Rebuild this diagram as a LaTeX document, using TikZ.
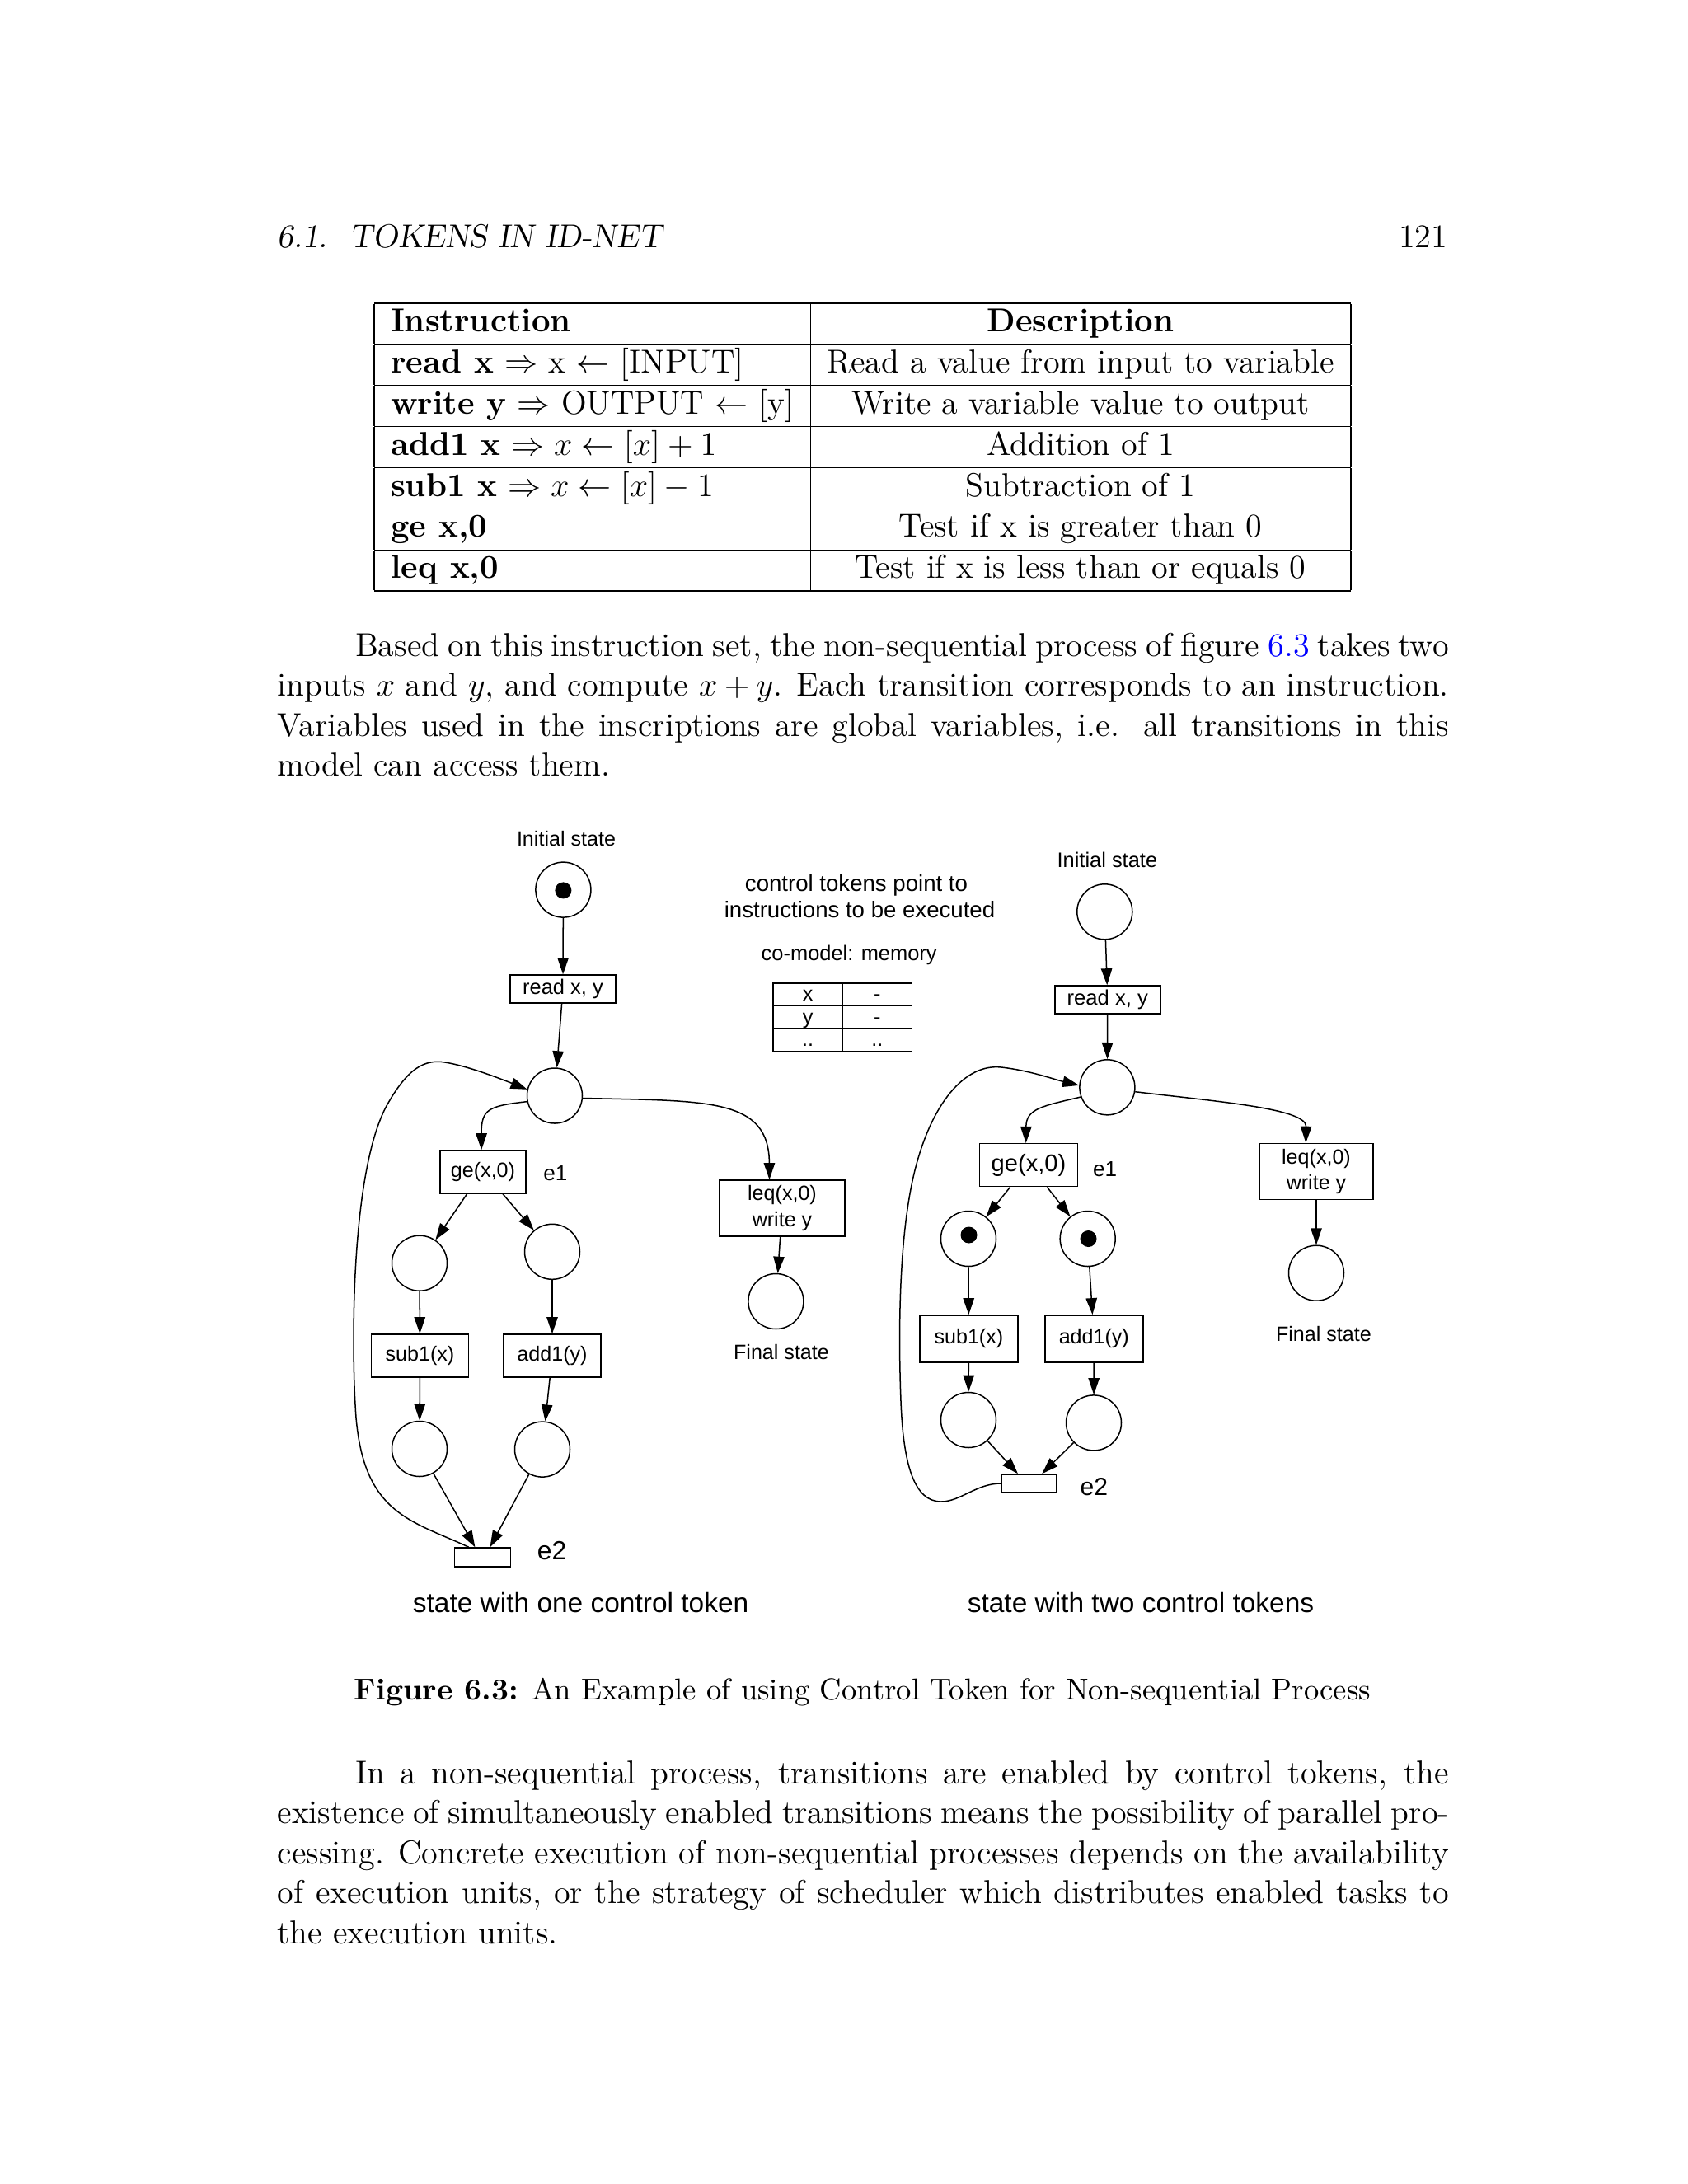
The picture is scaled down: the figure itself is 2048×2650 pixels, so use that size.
\documentclass[tikz,border=0pt]{standalone}
\usepackage{fontspec}
\newfontfamily\figfont{Liberation Sans}
\usetikzlibrary{arrows.meta}
\newdimen\pxu \pxu=0.29885pt
\newdimen\textw \textw=424.7pt
\newcommand\bodyfont{\fontsize{12}{14.5}\selectfont}
\newcommand\capfont{\fontsize{10.95}{13.6}\selectfont}
\newcommand\ffs[2]{\figfont\fontsize{#1}{#2}\selectfont}
\begin{document}
\begin{tikzpicture}[x=0.29885pt,y=-0.29885pt]
\tikzset{
  place/.style={circle, draw, line width=0.45pt, minimum size=67\pxu, inner sep=0pt},
  tok/.style={circle, fill=black, minimum size=20\pxu, inner sep=0pt},
  tbox/.style={draw, line width=0.45pt, inner sep=0pt, align=center},
  arr/.style={line width=0.45pt, -{Triangle[length=6pt,width=4pt]}},
  lab/.style={inner sep=0pt, anchor=base},
  body/.style={inner sep=0pt, anchor=base west, font=\bodyfont},
  cell/.style={draw, line width=0.45pt, minimum width=84.3\pxu, minimum height=27.5\pxu, inner sep=0pt, text height=16\pxu, text depth=0pt, font=\ffs{7.5}{9}},
}
\fill[white] (0,0) rectangle (2048,2650);
\useasboundingbox (0,0) rectangle (2048,2650);

% header
\node[body] (hdr) at (336,300) {\slshape 6.1.\ \ TOKENS IN ID-NET};
\node[body, anchor=base east] (pg) at (1757,300) {121};

% table
\node[inner sep=0pt, anchor=north, font=\bodyfont] (tab) at (1046.5,366.7) {%
\begin{tabular}{|l|c|}\hline
\textbf{Instruction} & \textbf{Description}\\\hline
\textbf{read x} $\Rightarrow$ x $\leftarrow$ [INPUT] & Read a value from input to variable\\\hline
\textbf{write y} $\Rightarrow$ OUTPUT $\leftarrow$ [y] & Write a variable value to output\\\hline
\textbf{add1 x} $\Rightarrow x\leftarrow [x]+1$ & Addition of 1\\\hline
\textbf{sub1 x} $\Rightarrow x\leftarrow [x]-1$ & Subtraction of 1\\\hline
\textbf{ge x,0} & Test if x is greater than 0\\\hline
\textbf{leq x,0} & Test if x is less than or equals 0\\\hline
\end{tabular}};

% paragraph 1
\node[body] (a1) at (430.4,796) {\hbox to \dimexpr\textw-28.2pt\relax{Based on this instruction set, the non-sequential process of figure \textcolor{blue}{6.3} takes two}};
\node[body] (a2) at (336,844.5) {\hbox to \textw{inputs $x$ and $y$, and compute $x+y$. Each transition corresponds to an instruction.}};
\node[body] (a3) at (336,893) {\hbox to \textw{Variables used in the inscriptions are global variables, i.e. all transitions in this}};
\node[body] (a4) at (336,941.5) {model can access them.};

% caption
\node[body, anchor=base, font=\capfont] (cap) at (1046.5,2062) {\textbf{Figure 6.3:} An Example of using Control Token for Non-sequential Process};

% paragraph 2
\node[body] (b1) at (430.4,2164) {\hbox to \dimexpr\textw-28.2pt\relax{In a non-sequential process, transitions are enabled by control tokens, the}};
\node[body] (b2) at (336,2212.5) {\hbox to \textw{existence of simultaneously enabled transitions means the possibility of parallel pro-}};
\node[body] (b3) at (336,2261) {\hbox to \textw{cessing. Concrete execution of non-sequential processes depends on the availability}};
\node[body] (b4) at (336,2309.5) {\hbox to \textw{of execution units, or the strategy of scheduler which distributes enabled tasks to}};
\node[body] (b5) at (336,2358) {the execution units.};

% ===== left diagram =====
\node[lab, font=\ffs{7.5}{9}] (LinitT) at (687,1026) {Initial state};
\node[place] (Lp0) at (683.4,1079.6) {};
\node[tok] (Lt0) at (683.4,1080.4) {};
\node[tbox, minimum width=128\pxu, minimum height=34\pxu, font=\ffs{7.6}{9}] (Lread) at (683,1200) {read x, y};
\node[place] (Lp1) at (673,1329.5) {};
\node[tbox, minimum width=104\pxu, minimum height=52\pxu, font=\ffs{7.5}{9}] (Lge) at (586,1422) {ge(x,0)};
\node[lab, anchor=base west, font=\ffs{7.8}{9}] (Le1) at (658.8,1432.2) {e1};
\node[tbox, minimum width=152\pxu, minimum height=68\pxu, font=\ffs{7.5}{9.4}] (Lleq) at (949,1466) {leq(x,0)\\write y};
\node[place] (Lfin) at (941.4,1579) {};
\node[lab, font=\ffs{7.5}{9}] (LfinT) at (948,1649.6) {Final state};
\node[place] (Lpa) at (509,1532.7) {};
\node[place] (Lpb) at (670,1518.8) {};
\node[tbox, minimum width=118\pxu, minimum height=52\pxu, font=\ffs{7.5}{9}] (Lsub) at (509.5,1645) {sub1(x)};
\node[tbox, minimum width=118\pxu, minimum height=52\pxu, font=\ffs{7.5}{9}] (Ladd) at (670,1645) {add1(y)};
\node[place] (Lpc) at (509,1758) {};
\node[place] (Lpd) at (658,1758.6) {};
\node[tbox, minimum width=68\pxu, minimum height=23\pxu] (Le2) at (585.6,1889.5) {};
\node[lab, anchor=base west, font=\ffs{9.5}{11}] (Le2T) at (651.3,1892.5) {e2};
\node[lab, font=\ffs{10}{12}] (LcapT) at (704.6,1956) {state with one control token};

\draw[arr] (Lp0) -- (Lread);
\draw[arr] (Lread) -- (Lp1);
\draw[arr] (Lp1.192) .. controls (592,1342) and (584,1346) .. (Lge.94);
\draw[arr] (Lp1.-5) .. controls (860,1336) and (933,1332) .. (Lleq.114);
\draw[arr] (Lleq) -- (Lfin);
\draw[arr] (Lge.234) -- (Lpa);
\draw[arr] (Lge.-48) -- (Lpb);
\draw[arr] (Lpa) -- (Lsub);
\draw[arr] (Lpb) -- (Ladd);
\draw[arr] (Lsub) -- (Lpc);
\draw[arr] (Ladd) -- (Lpd);
\draw[arr] (Lpc) -- (Le2.127);
\draw[arr] (Lpd) -- (Le2.54);
\draw[arr] (Le2.144) .. controls (500,1845) and (442,1838) .. (432,1720)
  .. controls (426,1640) and (425,1420) .. (470,1340)
  .. controls (495,1296) and (515,1285) .. (540,1289)
  .. controls (565,1293) and (600,1306) .. (Lp1.167);

% ===== middle =====
\node[lab, font=\ffs{8.25}{10}] (ct1) at (1039,1081.8) {control tokens point to};
\node[lab, font=\ffs{8.25}{10}] (ct2) at (1043,1113.9) {instructions to be executed};
\node[lab, font=\ffs{7.6}{9}] (cm) at (1030.2,1165.3) {co-model: memory};
\node[cell] (m11) at (980.05,1206.75) {x};
\node[cell] (m12) at (1064.4,1206.75) {-};
\node[cell] (m21) at (980.05,1234.25) {y};
\node[cell] (m22) at (1064.4,1234.25) {-};
\node[cell] (m31) at (980.05,1261.75) {..};
\node[cell] (m32) at (1064.4,1261.75) {..};

% ===== right diagram =====
\node[lab, font=\ffs{7.6}{9}] (RinitT) at (1343.4,1052.8) {Initial state};
\node[place] (Rp0) at (1340.3,1106.3) {};
\node[tbox, minimum width=128\pxu, minimum height=34\pxu, font=\ffs{7.65}{9}] (Rread) at (1343.8,1213) {read x, y};
\node[place] (Rp1) at (1343.4,1319.3) {};
\node[tbox, minimum width=119\pxu, minimum height=52\pxu, font=\ffs{8.7}{10}] (Rge) at (1248,1413.7) {ge(x,0)};
\node[lab, anchor=base west, font=\ffs{7.8}{9}] (Re1) at (1325.5,1427.3) {e1};
\node[tbox, minimum width=138\pxu, minimum height=68\pxu, font=\ffs{7.5}{9.4}] (Rleq) at (1597,1421.5) {leq(x,0)\\write y};
\node[place] (Rfin) at (1597,1544.7) {};
\node[lab, font=\ffs{7.5}{9}] (RfinT) at (1605.9,1627.3) {Final state};
\node[place] (Rpa) at (1175,1503) {};
\node[tok] (Rta) at (1175.5,1498.5) {};
\node[place] (Rpb) at (1319.7,1503) {};
\node[tok] (Rtb) at (1320.5,1503) {};
\node[tbox, minimum width=119\pxu, minimum height=57\pxu, font=\ffs{7.5}{9}] (Rsub) at (1175.4,1624.4) {sub1(x)};
\node[tbox, minimum width=119\pxu, minimum height=57\pxu, font=\ffs{7.5}{9}] (Radd) at (1327.3,1624.4) {add1(y)};
\node[place] (Rpc) at (1175,1723) {};
\node[place] (Rpd) at (1327,1726.4) {};
\node[tbox, minimum width=67\pxu, minimum height=22\pxu] (Re2) at (1248.5,1800) {};
\node[lab, anchor=base west, font=\ffs{9}{11}] (Re2T) at (1309.9,1814) {e2};
\node[lab, font=\ffs{10}{12}] (RcapT) at (1384,1956) {state with two control tokens};

\draw[arr] (Rp0) -- (Rread);
\draw[arr] (Rread) -- (Rp1);
\draw[arr] (Rp1.200) .. controls (1265,1342) and (1245,1345) .. (Rge.97);
\draw[arr] (Rp1.-9) .. controls (1480,1337) and (1585,1345) .. (Rleq.110);
\draw[arr] (Rleq) -- (Rfin);
\draw[arr] (Rge.230) -- (Rpa);
\draw[arr] (Rge.-50) -- (Rpb);
\draw[arr] (Rpa) -- (Rsub);
\draw[arr] (Rpb) -- (Radd);
\draw[arr] (Rsub) -- (Rpc);
\draw[arr] (Radd) -- (Rpd);
\draw[arr] (Rpc) -- (Re2.139);
\draw[arr] (Rpd) -- (Re2.37);
\draw[arr] (Re2.west) .. controls (1185,1800) and (1165,1822) .. (1142,1822)
  .. controls (1110,1822) and (1096,1780) .. (1093,1700)
  .. controls (1090,1620) and (1090,1500) .. (1110,1420)
  .. controls (1130,1340) and (1170,1290) .. (1215,1295)
  .. controls (1250,1299) and (1280,1310) .. (Rp1.176);
\end{tikzpicture}
\end{document}
